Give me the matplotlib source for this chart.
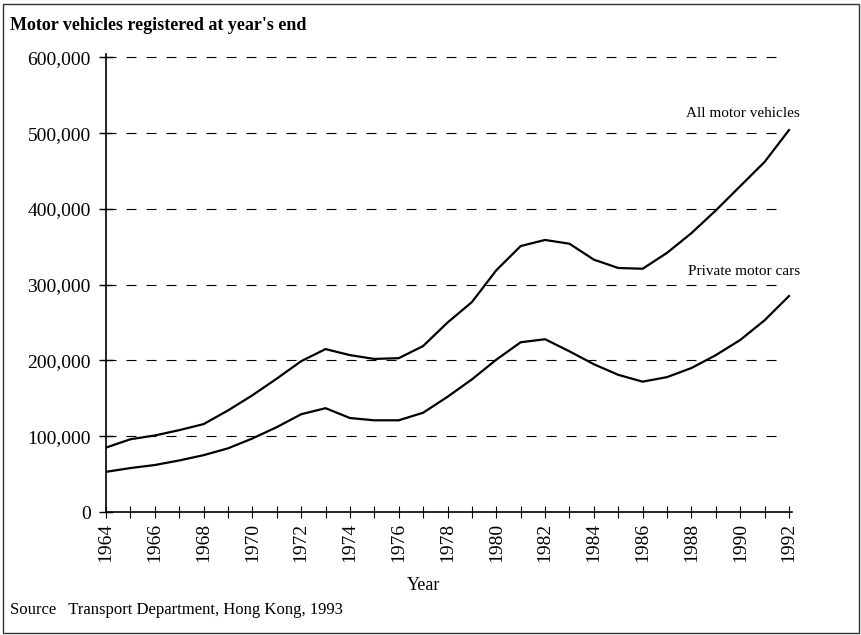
import matplotlib
matplotlib.use("Agg")
import matplotlib.pyplot as plt
from matplotlib.patches import Rectangle
from matplotlib.ticker import FuncFormatter, MultipleLocator

years = list(range(1964, 1993))
all_vehicles = [85000, 96000, 101000, 108000, 116000, 134000, 154000, 176000, 199000, 215000,
                207000, 202000, 203000, 219000, 250000, 277000, 319000, 351000, 359000, 354000,
                333000, 322000, 321000, 342000, 368000, 398000, 430000, 462000, 504000]
private_cars = [53000, 58000, 62000, 68000, 75000, 84000, 97000, 112000, 129000, 137000,
                124000, 121000, 121000, 131000, 152000, 175000, 201000, 224000, 228000, 212000,
                195000, 181000, 172000, 178000, 190000, 207000, 227000, 253000, 285000]
y_ticks = [0, 100000, 200000, 300000, 400000, 500000, 600000]
x_ticks = list(range(1964, 1993, 2))

plt.rcParams['font.family'] = ['Liberation Serif', 'DejaVu Serif']

fig = plt.figure(figsize=(8.62, 6.35), dpi=100)
ax = fig.add_axes([0.123, 0.1937, 0.796, 0.722])

ax.plot(years, all_vehicles, color='black', lw=1.6, solid_joinstyle='round')
ax.plot(years, private_cars, color='black', lw=1.6, solid_joinstyle='round')

for yv in y_ticks[1:]:
    ax.axhline(yv, xmin=0, xmax=0.98, color='black', lw=0.8, linestyle=(0, (9, 9)))

ax.set_xlim(1964, 1992.13)
ax.set_ylim(0, 605000)
ax.set_yticks(y_ticks)
ax.yaxis.set_major_formatter(FuncFormatter(lambda v, p: f"{int(v):,}"))
ax.set_xticks(x_ticks)
ax.set_xticklabels([str(x) for x in x_ticks], rotation=90)
ax.xaxis.set_minor_locator(MultipleLocator(1))

for s in ['top', 'right']:
    ax.spines[s].set_visible(False)
for s in ['left', 'bottom']:
    ax.spines[s].set_linewidth(1.2)

ax.tick_params(axis='y', which='major', direction='inout', length=10, width=1, labelsize=14, pad=6)
ax.tick_params(axis='x', which='both', direction='inout', length=8, width=0.8, labelsize=14, pad=4)

ax.text(1992.45, 526000, "All motor vehicles", ha='right', va='center', fontsize=11, clip_on=False)
ax.text(1992.45, 317000, "Private motor cars", ha='right', va='center', fontsize=11, clip_on=False)

fig.text(10 / 862, 1 - 25 / 635, "Motor vehicles registered at year's end", ha='left', va='center',
         fontsize=13, fontweight='bold')
fig.text(424 / 862, 1 - 585 / 635, "Year", ha='center', va='center', fontsize=13)
fig.text(10 / 862, 1 - 610 / 635, "Source   Transport Department, Hong Kong, 1993", ha='left',
         va='center', fontsize=12)

fig.patches.append(Rectangle((3 / 862, 2 / 635), 856 / 862, 629 / 635, transform=fig.transFigure,
                             fill=False, edgecolor='#333333', lw=1))

fig.savefig("out.png", dpi=100)
